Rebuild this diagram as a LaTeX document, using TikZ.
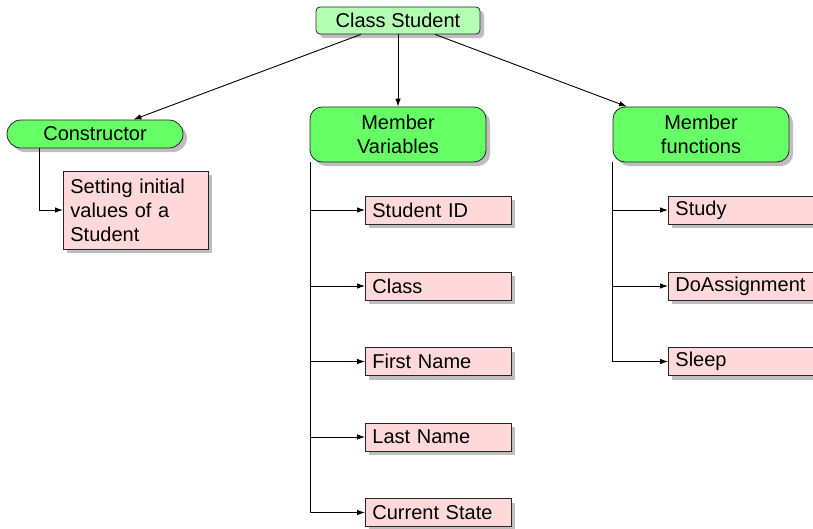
\documentclass[tikz,border=0pt]{standalone}
\usepackage{fontspec}
\setmainfont{Liberation Sans}
\usetikzlibrary{shadows,calc,arrows.meta}

\definecolor{palegreen}{RGB}{179,255,179}
\definecolor{leafgreen}{RGB}{102,255,102}
\definecolor{softpink}{RGB}{255,217,217}
\definecolor{shadowgrey}{RGB}{190,190,190}

\tikzset{
  boxshadow/.style={drop shadow={shadow xshift=4pt, shadow yshift=-4pt, fill=shadowgrey, opacity=1}},
  base/.style={draw=black!85, line width=0.8pt, boxshadow, font=\fontsize{20}{24}\selectfont},
  classbox/.style={base, fill=palegreen, rounded corners=4pt, minimum width=164pt, minimum height=27pt, inner sep=0pt},
  pillbox/.style={base, fill=leafgreen, rounded corners=14pt, minimum width=176pt, minimum height=28pt, inner sep=0pt},
  groupbox/.style={base, fill=leafgreen, rounded corners=12pt, minimum width=176pt, minimum height=55pt, inner sep=0pt, align=center},
  itembox/.style={base, fill=softpink, minimum height=28pt, inner xsep=7pt, inner ysep=0pt, text width=132pt, align=left},
  arr/.style={line width=0.9pt, -{Latex[length=8pt,width=5.5pt]}},
  link/.style={line width=0.9pt}
}

\begin{document}
\begin{tikzpicture}[x=1pt, y=-1pt]
\useasboundingbox (0,0) rectangle (813,528);

% root and its three parts
\node[classbox] (cs) at (398,20.5) {Class Student};
\node[pillbox]  (ctor) at (95,134) {Constructor};
\node[groupbox] (mv) at (398,134.5) {Member\\Variables};
\node[groupbox] (mf) at (701,134.5) {Member\\functions};

\draw[arr] (cs) -- (ctor);
\draw[arr] (cs) -- (mv);
\draw[arr] (cs) -- (mf);

% constructor detail
\node[itembox, text width=131pt, minimum height=78pt, anchor=west] (init) at (63,210)
  {Setting initial\\values of a\\Student};

% member variables
\node[itembox, anchor=west] (sid)   at (365,210) {Student ID};
\node[itembox, anchor=west] (cls)   at (365,286) {Class};
\node[itembox, anchor=west] (first) at (365,361.5) {First Name};
\node[itembox, anchor=west] (last)  at (365,437) {Last Name};
\node[itembox, anchor=west] (state) at (365,512.5) {Current State};

% member functions
\node[itembox, anchor=west] (study)  at (668,210) {Study};
\node[itembox, anchor=west] (assign) at (668,286) {DoAssignment};
\node[itembox, anchor=west] (sleep)  at (668,361.5) {Sleep};

% tree trunks
\coordinate (ctorfoot) at ($(ctor.south west)+(33,0)$);
\coordinate (mvfoot)   at ($(mv.south west)+(1,0)$);
\coordinate (mffoot)   at ($(mf.south west)+(0,0)$);

\draw[arr] (ctorfoot) |- (init.west);

\draw[link] (mvfoot) -- (mvfoot |- state.west);
\foreach \n in {sid,cls,first,last,state}
  \draw[arr] (mvfoot) |- (\n.west);

\draw[link] (mffoot) -- (mffoot |- sleep.west);
\foreach \n in {study,assign,sleep}
  \draw[arr] (mffoot) |- (\n.west);
\end{tikzpicture}
\end{document}
